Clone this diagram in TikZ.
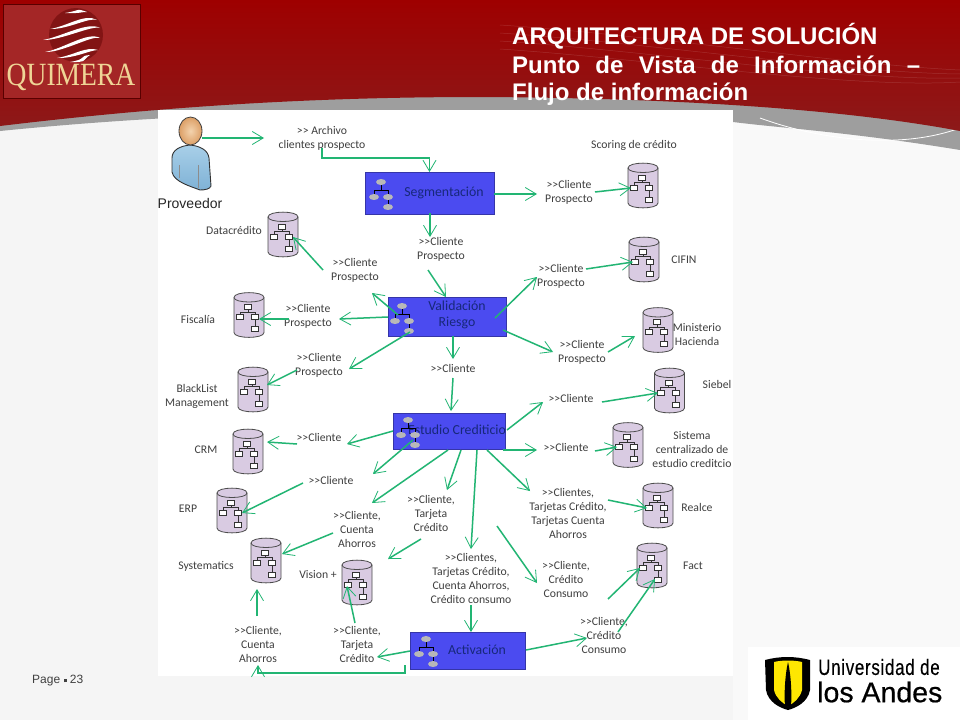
\documentclass[tikz,border=0pt]{standalone}
\usepackage{fontspec}
\setmainfont{Liberation Sans}
\newfontfamily\carl{Carlito}
\newfontfamily\serifq{Liberation Serif}
\usetikzlibrary{arrows.meta}
\definecolor{flowc}{HTML}{22B573}
\definecolor{boxc}{HTML}{4B4BF0}
\definecolor{boxt}{HTML}{17287A}
\definecolor{dbc}{HTML}{D9CBE2}
\definecolor{labc}{HTML}{3F3F3F}
\definecolor{goldq}{HTML}{EFD596}
\definecolor{bodyc}{HTML}{A8CFE8}
\definecolor{bodyd}{HTML}{7FB2D6}
\definecolor{headc}{HTML}{F3D3AE}
\definecolor{heade}{HTML}{DC9F66}
\tikzset{
 flow/.style={draw=flowc,line width=1.5pt,-{Straight Barb[length=11pt,width=13pt,line width=.8pt]}},
 lab/.style={font=\carl\fontsize{11.7}{14}\selectfont,text=labc,align=center,inner sep=0pt},
 procbox/.style={fill=boxc,draw=boxc!70!black,line width=.6pt,inner sep=0pt,outer sep=0pt},
 boxtxt/.style={font=\carl\fontsize{13.8}{16}\selectfont,text=boxt,align=center,inner sep=0pt},
 dbnode/.style={minimum width=30pt,minimum height=45pt,inner sep=0pt,outer sep=0pt},
 ttl/.style={font=\bfseries\fontsize{24}{28}\selectfont,text=white,anchor=west,inner sep=0pt},
}
\newcommand\lab[4]{\node[lab] (#1) at (#2,#3) {#4};}
\newcommand\dbcyl[3]{%
 \node[dbnode] (#1) at (#2,#3) {};
 \begin{scope}[shift={(#2,#3)}]
  \path[fill=dbc,draw=black!70,line width=.8pt] (-15,-17.5) -- (-15,17.5) .. controls (-15,24) and (15,24) .. (15,17.5) -- (15,-17.5) .. controls (15,-24) and (-15,-24) .. (-15,-17.5) -- cycle;
  \draw[black!70,line width=.8pt] (-15,-17.5) .. controls (-15,-11.5) and (15,-11.5) .. (15,-17.5);
  \draw[black!80,line width=.6pt] (-1,-8) -- (-1,-3) (-9,2) -- (-9,-3) -- (6,-3) -- (6,14);
  \foreach \a/\b in {-1/-8,-9/2,6/2,6/14}{\draw[black!80,line width=.6pt,fill=white] (\a-3.5,\b-2.3) rectangle (\a+3.5,\b+2.3);}
 \end{scope}}
\newcommand\treeicon[2]{%
 \begin{scope}[shift={(#1,#2)}]
  \draw[black,line width=.6pt] (0,0) -- (0,8) (-7,15) -- (-7,8) -- (7,8) -- (7,25);
  \foreach \a/\b in {0/0,-7/15,7/15,7/25}{\fill[black!28] (\a,\b) ellipse (5pt and 3pt);}
 \end{scope}}
\begin{document}
\begin{tikzpicture}[x=1pt,y=-1pt]
\useasboundingbox (0,0) rectangle (960,720);
% background
\fill[black!4] (0,0) rectangle (960,720);
\fill[black!2.5] (733,100) rectangle (960,720);
% grey band under the header
\fill[black!38] (0,124) .. controls (150,108) and (300,94) .. (480,95) .. controls (700,98) and (830,105) .. (960,128) -- (960,150) .. controls (850,132) and (780,128) .. (733,122) -- (480,112) .. controls (300,110) and (150,116) .. (0,131) -- cycle;
\draw[white,line width=.8pt] (760,118) .. controls (820,140) and (900,150) .. (960,128);
% red header
\path[top color=red!62!black,bottom color=red!50!black!90!white] (0,0) -- (960,0) -- (960,131) .. controls (860,112) and (700,98) .. (480,97) .. controls (300,97) and (150,108) .. (0,126) -- cycle;
\foreach \d in {0,8,16,24}{\draw[white,opacity=.14,line width=.5pt] (500,{25+\d}) .. controls (650,{35+\d}) and (850,{65+\d}) .. (960,{70+\d/2});}
% Quimera logo
\fill[red!58!black!85!white,draw=red!35!black,line width=.8pt] (3,4) rectangle (140,98);
\fill[red!35!black,opacity=.45] (76,35) circle (27pt);
\foreach \lx/\ly/\rx/\ry/\cy in {65/13/87/12/8,50/29/97/20/13,43/40/100/28/21,45/52/100/38/31,57/58/98/50/46,70/62/90/55/56}{
 \fill[white] (\lx,\ly) .. controls ({\lx+18},{\ly-3}) and ({\rx-12},\cy) .. (\rx,\ry) .. controls ({\rx-8},{\cy+4}) and ({\lx+18},{\ly+.5}) .. (\lx,\ly) -- cycle;}
\node[font=\serifq\fontsize{27}{27}\selectfont,text=goldq,inner sep=0pt] (quimera) at (71,77) {\scalebox{1.02}[1.2]{QUIMERA}};
% title
\node[ttl] (t1) at (512,36) {ARQUITECTURA DE SOLUCIÓN};
\node[ttl] (t2) at (512,65) {\makebox[408pt][s]{Punto\hfill de\hfill Vista\hfill de\hfill Información\hfill –}};
\node[ttl] (t3) at (512,94) {Flujo de información};
% diagram sheet
\fill[white] (158,110) rectangle (733,676);
% person
\node[minimum width=40pt,minimum height=80pt,inner sep=0pt] (person) at (191,165) {};
\path[top color=bodyc,bottom color=bodyd,draw=black!80,line width=.9pt] (190,145) .. controls (180,146) and (172,150) .. (172,158) -- (172,172) .. controls (174,182) and (190,186) .. (200,190) .. controls (205,190) and (210,189) .. (211,186) -- (209,158) .. controls (208,150) and (200,146) .. (190,145) -- cycle;
\draw[black!45,line width=.5pt] (179,165) -- (179,178) (198,165) -- (198,188);
\path[inner color=headc,outer color=heade,draw=black!75,line width=.8pt] (190.5,131) ellipse (11.5pt and 14pt);
\node[font=\fontsize{14}{14}\selectfont,text=black!85,inner sep=0pt] (prov) at (190,203) {Proveedor};
% process boxes
\node[procbox,minimum width=129pt,minimum height=42pt] (seg) at (429.5,193) {};
\node[procbox,minimum width=118pt,minimum height=39pt] (val) at (447,316.5) {};
\node[procbox,minimum width=112pt,minimum height=36pt] (est) at (449,431) {};
\node[procbox,minimum width=115pt,minimum height=37pt] (act) at (467.5,650.5) {};
\node[boxtxt] (segT) at (444,193) {Segmentación};
\node[boxtxt] (valT) at (457,315) {Validación\\Riesgo};
\node[boxtxt] (estT) at (457,430) {Estudio Crediticio};
\node[boxtxt] (actT) at (477,650) {Activación};
\treeicon{381}{182}\treeicon{402}{306}\treeicon{408}{420}\treeicon{426}{639}
% stores
\dbcyl{dSco}{643}{185.5}\dbcyl{dDat}{283}{234.5}\dbcyl{dFis}{249}{315}\dbcyl{dBl}{253}{389.5}
\dbcyl{dCrm}{248}{451.5}\dbcyl{dErp}{232}{510.5}\dbcyl{dSys}{266}{560.5}\dbcyl{dVis}{357}{582.5}
\dbcyl{dCif}{644}{259.5}\dbcyl{dMin}{658}{330}\dbcyl{dSie}{669.5}{390.5}\dbcyl{dSis}{628}{445}
\dbcyl{dRea}{658}{505.5}\dbcyl{dFac}{652}{565.5}
% names of stores
\lab{nSco}{634}{145}{Scoring de crédito}
\lab{nDat}{234}{230}{Datacrédito}
\lab{nFis}{198}{319}{Fiscalía}
\lab{nBl}{197}{396}{BlackList\\Management}
\lab{nCrm}{206}{450}{CRM}
\lab{nErp}{188}{509}{ERP}
\lab{nSys}{206}{566}{Systematics}
\lab{nVis}{318}{575}{Vision +}
\lab{nCif}{684}{260}{CIFIN}
\lab{nMin}{697}{335}{Ministerio\\Hacienda}
\lab{nSie}{717}{384}{Siebel}
\lab{nSis}{692}{450}{Sistema\\centralizado de\\estudio creditcio}
\lab{nRea}{697}{507}{Realce}
\lab{nFac}{693}{566}{Fact}
% flow labels
\lab{lArch}{322}{138}{>> Archivo\\clientes prospecto}
\lab{lSeg1}{569}{192}{>>Cliente\\Prospecto}
\lab{lSeg2}{441}{249}{>>Cliente\\Prospecto}
\lab{lDat}{355}{270}{>>Cliente\\Prospecto}
\lab{lFis}{308}{316}{>>Cliente\\Prospecto}
\lab{lBl}{319}{365}{>>Cliente\\Prospecto}
\lab{lDn}{453}{368}{>>Cliente}
\lab{lCrm}{319}{437}{>>Cliente}
\lab{lErp}{331}{480}{>>Cliente}
\lab{lCta}{357}{529}{>>Cliente,\\Cuenta\\Ahorros}
\lab{lTar}{431}{513}{>>Cliente,\\Tarjeta\\Crédito}
\lab{lCtaB}{258}{644}{>>Cliente,\\Cuenta\\Ahorros}
\lab{lTarB}{357}{644}{>>Cliente,\\Tarjeta\\Crédito}
\lab{lCli}{471}{578}{>>Clientes,\\Tarjetas Crédito,\\Cuenta Ahorros,\\Crédito consumo}
\lab{lCif}{561}{276}{>>Cliente\\Prospecto}
\lab{lMin}{582}{352}{>>Cliente\\Prospecto}
\lab{lSie}{571}{398}{>>Cliente}
\lab{lSis}{566}{447}{>>Cliente}
\lab{lRea}{568}{513}{>>Clientes,\\Tarjetas Crédito,\\Tarjetas Cuenta\\Ahorros}
\lab{lCon}{566}{579}{>>Cliente,\\Crédito\\Consumo}
\lab{lFac}{604}{635}{>>Cliente,\\Crédito\\Consumo}
% connectors
\coordinate (f35) at (497,526);
\newcommand\cn[4]{\draw[flow] ([shift={(#2)}]#1.center) -- ([shift={(#4)}]#3.center);}
\cn{person}{11,-27}{lArch}{-58,0}
\draw[flow] ([shift={(0,10)}]lArch.center) |- ([shift={(0,-14)}]seg.north) -- (seg.north);
\cn{seg}{64.5,1}{lSeg1}{-32,2}
\cn{lSeg1}{26,0}{dSco}{-12,2.5}
\cn{seg}{0.5,20}{lSeg2}{-11,-12}
\cn{lSeg2}{-13,21}{val}{-1,-19.5}
\cn{val}{-49,-1.5}{lDat}{17,23}
\cn{lDat}{-32,0}{dDat}{10,2.5}
\cn{val}{-59,.5}{lFis}{31,3}
\cn{lFis}{-19,3}{dFis}{10,4}
\cn{val}{-37,15.5}{lBl}{30,4}
\cn{lBl}{-22,5}{dBl}{14,-4.5}
\cn{val}{6,19.5}{lDn}{0,-9}
\cn{lDn}{0,10}{est}{2,-20}
\cn{est}{-56,0}{lCrm}{28,7}
\cn{lCrm}{-22,7}{dCrm}{19,-9.5}
\cn{est}{-36,9}{lErp}{42,-6}
\cn{lErp}{-28,3}{dErp}{10,2.5}
\cn{est}{-1,19}{lCta}{15,-26}
\cn{lCta}{-24,4}{dSys}{16,-6.5}
\cn{est}{12,19}{lTar}{16,-23}
\cn{lTar}{-10,26}{dVis}{31,-23.5}
\cn{est}{28,19}{lCli}{0,-29}
\cn{lCli}{0,27}{act}{3.5,-18.5}
\cn{est}{38,19}{lRea}{-38,-22}
\cn{est}{54,19}{lSis}{-29,3}
\cn{lSis}{29,4}{dSis}{-11,2}
\cn{est}{58,-1}{lSie}{-28,4}
\cn{lSie}{31,4}{dSie}{-11.5,2.5}
\cn{val}{48,1.5}{lCif}{-24,1}
\cn{lCif}{25,-7}{dCif}{-11,2.5}
\cn{val}{56,13.5}{lMin}{-29,0}
\cn{lMin}{26,0}{dMin}{-23,6}
\cn{lRea}{40,-13}{dRea}{-11,2.5}
\draw[flow] (f35) -- ([shift={(-29,4)}]lCon.center);
\cn{lCon}{42,20}{dFac}{-12,2.5}
\cn{act}{58.5,-.5}{lFac}{-17,3}
\cn{lFac}{14,-3}{dFac}{3,13.5}
\cn{act}{-57.5,.5}{lTarB}{20,13}
\cn{lTarB}{-2,-21}{dVis}{-10,3.5}
\draw[flow] ([shift={(-62.5,14.5)}]act.center) -- ([shift={(-62.5,22.5)}]act.center) -| ([shift={(0,21)}]lCtaB.center);
\cn{lCtaB}{-1,-28}{dSys}{-9,28.5}
% page number
\node[font=\fontsize{12}{12}\selectfont,text=black!75,anchor=west,inner sep=0pt] (page) at (32,681) {Page\ \raisebox{1.5pt}{\rule{3pt}{3pt}}\ 23};
% university logo
\fill[white] (748,647) rectangle (960,720);
\path[fill=black] (765,660) .. controls (780,656) and (795,656) .. (810,660) -- (810,690) .. controls (808,702) and (796,708) .. (788,710) .. controls (780,708) and (768,702) .. (766,690) -- cycle;
\path[fill=yellow!90!orange] (774,662) .. controls (782,660) and (794,660) .. (802,662) -- (802,690) .. controls (800,698) and (794,703) .. (788,706) .. controls (782,703) and (776,698) .. (774,690) -- cycle;
\path[fill=black] (788,662) .. controls (785,675) and (784,695) .. (785,706) -- (791,706) .. controls (792,695) and (791,675) .. (788,662) -- cycle;
\node[font=\fontsize{17}{17}\selectfont,text=black,anchor=west,inner sep=0pt] (uni1) at (818,667) {\scalebox{1}[1.3]{\addfontfeature{LetterSpace=4,FakeBold=0.3}Universidad de}};
\node[font=\fontsize{28.5}{28}\selectfont,text=black,anchor=west,inner sep=0pt] (uni2) at (817,692) {\addfontfeature{FakeBold=0.6}los Andes};
\end{tikzpicture}
\end{document}
